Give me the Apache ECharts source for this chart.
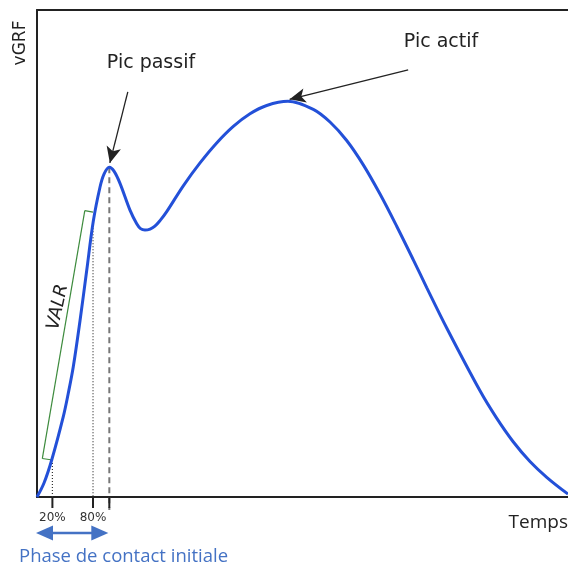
<!DOCTYPE html>
<html>
<head>
<meta charset="utf-8">
<script src="https://cdn.jsdelivr.net/npm/echarts@6/dist/echarts.min.js"></script>
<style>html,body{margin:0;padding:0;background:#fff;}#c{width:568px;height:568px;}</style>
</head>
<body>
<div id="c"></div>
<script>
// Time (arbitrary 0-100) and vertical ground reaction force (arbitrary 0-100)
const timeValues  = [0, 1.32, 2.77, 4.95, 5.89, 6.84, 8.10, 9.36, 10.60, 11.86, 12.62, 13.62, 14.5, 15.63, 17.51, 18.78, 19.5, 20.34, 21.3, 22.2, 23.2, 24.43, 27.55, 30.70, 33.84, 36.97, 40.11, 43.26, 47.27, 52.03, 55.18, 58.32, 61.45, 64.6, 67.74, 70.87, 73.39, 77.21, 83.43, 86.44, 89.64, 92.84, 96.05, 100];
const forceValues = [0, 2.87, 7.6, 16.5, 21.3, 26.8, 36.2, 46.5, 56.6, 63.6, 66.3, 67.7, 66.9, 64.4, 58.9, 56.1, 55.1, 54.8, 55.0, 55.6, 56.8, 58.6, 63.9, 68.6, 72.7, 76.1, 78.7, 80.4, 81.25, 79.6, 77.0, 73.2, 68.2, 62.2, 55.6, 48.7, 43.0, 34.6, 21.8, 16.4, 11.4, 7.3, 4.0, 0.6];
// Key instants
const t20 = 2.9, f20 = 7.6;
const t80 = 10.55, f80 = 56.4;
const tPassif = 13.62, fPassif = 67.7;
const tActif = 47.27, fActif = 81.25;
const tickLabels = ['20%', '80%'];

const chart = echarts.init(document.getElementById('c'), null, {renderer: 'canvas'});
const blk = '#222';
const ml = [];
// VALR bracket
const g = {type:'solid', color:'#3d8b3d', width:1.2};
ml.push([{coord:[1.0, 7.9], lineStyle:g}, {coord:[9.0, 58.8]}]);
ml.push([{coord:[1.0, 7.9], lineStyle:g}, {coord:[t20, f20]}]);
ml.push([{coord:[9.0, 58.8], lineStyle:g}, {coord:[t80, 58.5]}]);
// annotation arrows
ml.push([{coord:[17.1, 83.2], lineStyle:{type:'solid', color:blk, width:1.3}}, {coord:[tPassif+0.1, fPassif+0.9], symbol:'arrow', symbolSize:[11,16]}]);
ml.push([{coord:[69.9, 87.7], lineStyle:{type:'solid', color:blk, width:1.3}}, {coord:[tActif+0.3, fActif+0.4], symbol:'arrow', symbolSize:[11,16]}]);

const option = {
  animation: false,
  backgroundColor: '#fff',
  grid: {left: 37, right: 0, top: 10, bottom: 71},
  xAxis: [
    {type:'value', min:0, max:100, position:'bottom', splitLine:{show:false}, axisTick:{show:false}, axisLabel:{show:false},
     axisLine:{show:true, lineStyle:{color:blk, width:2}}},
    {type:'value', min:0, max:100, position:'top', splitLine:{show:false}, axisTick:{show:false}, axisLabel:{show:false},
     axisLine:{show:true, onZero:false, lineStyle:{color:blk, width:2}}}
  ],
  yAxis: {type:'value', min:0, max:100, splitLine:{show:false}, axisTick:{show:false}, axisLabel:{show:false},
     axisLine:{show:true, lineStyle:{color:blk, width:2}}},
  series: [{
    type:'line', xAxisIndex:0, smooth:0.35, symbol:'none', clip:false, z:5,
    data: timeValues.map((t,i)=>[t, forceValues[i]]),
    lineStyle:{color:'#2350d8', width:3},
    markLine:{silent:true, symbol:['none','none'], label:{show:false}, animation:false, data: ml}
  }]
};
chart.setOption(option);

// elements that reach below the time axis, placed through the chart's own scales
const P = (x, y) => chart.convertToPixel({gridIndex:0}, [x, y]);
const below = P(0, 0)[1] + 11;
const axisY = P(0, 0)[1];
const gfx = [];
function vline(t, f, y2, style) {
  const a = P(t, f);
  gfx.push({type:'line', z:2, shape:{x1:a[0], y1:a[1], x2:a[0], y2:y2}, style:style});
}
vline(tPassif, fPassif, below + 2, {stroke:'#777', lineWidth:2, lineDash:[6,4]});
vline(t20, f20, axisY, {stroke:'#333', lineWidth:1.2, lineDash:[1,2]});
vline(t80, f80, axisY, {stroke:'#333', lineWidth:1.2, lineDash:[1,2]});
[t20, t80, tPassif].forEach(t => vline(t, 0, below, {stroke:blk, lineWidth:2}));
// tick labels
[[t20, tickLabels[0]], [t80, tickLabels[1]]].forEach(([t, s]) => {
  const a = P(t, 0);
  gfx.push({type:'text', x:a[0], y:a[1] + 21, style:{text:s, font:'12px "DejaVu Sans"', fill:'#333', align:'center', verticalAlign:'middle'}});
});
// initial contact phase double arrow
const pa = P(0, 0), pb = P(tPassif, 0);
const ay = axisY + 36, blue = '#4472C4';
gfx.push({type:'line', shape:{x1:pa[0] + 10, y1:ay, x2:pb[0] - 10, y2:ay}, style:{stroke:blue, lineWidth:2.5}});
gfx.push({type:'polygon', shape:{points:[[pa[0] - 1, ay], [pa[0] + 16, ay - 7.5], [pa[0] + 16, ay + 7.5]]}, style:{fill:blue}});
gfx.push({type:'polygon', shape:{points:[[pb[0] - 1, ay], [pb[0] - 18, ay - 7.5], [pb[0] - 18, ay + 7.5]]}, style:{fill:blue}});
// texts
gfx.push({type:'text', x:21, y:43, rotation:Math.PI/2, style:{text:'vGRF', font:'17px "DejaVu Sans"', fill:'#222', align:'center', verticalAlign:'middle'}});
gfx.push({type:'text', x:151, y:63, style:{text:'Pic passif', font:'19px "DejaVu Sans"', fill:'#222', align:'center', verticalAlign:'middle'}});
gfx.push({type:'text', x:441, y:42, style:{text:'Pic actif', font:'19px "DejaVu Sans"', fill:'#222', align:'center', verticalAlign:'middle'}});
gfx.push({type:'text', x:568, y:523, style:{text:'Temps', font:'19px "Open Sans"', fill:'#222', align:'right', verticalAlign:'middle'}});
gfx.push({type:'text', x:19, y:557, style:{text:'Phase de contact initiale', font:'18.5px "Open Sans"', fill:blue, align:'left', verticalAlign:'middle'}});
gfx.push({type:'text', x:58, y:307, rotation:Math.PI*78/180, style:{text:'VALR', font:'italic 18px "DejaVu Sans"', fill:'#222', align:'center', verticalAlign:'middle'}});
chart.setOption({graphic: gfx});
</script>
</body>
</html>
